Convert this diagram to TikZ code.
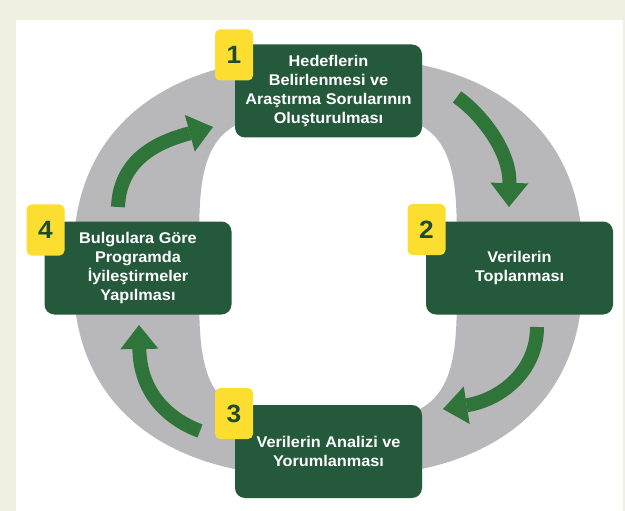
\documentclass[tikz,border=0pt]{standalone}
\usepackage{fontspec}
\setmainfont{Liberation Sans}[FakeStretch=1.05]
\usetikzlibrary{arrows.meta}
\definecolor{bgbeige}{RGB}{240,239,225}
\definecolor{ringgray}{RGB}{184,183,186}
\definecolor{boxgreen}{RGB}{37,89,59}
\definecolor{arrowgreen}{RGB}{47,117,58}
\definecolor{badgeyellow}{RGB}{252,222,48}
\definecolor{digitgreen}{RGB}{31,75,42}
\begin{document}
\begin{tikzpicture}[x=1pt,y=-1pt,
  stepbox/.style={rectangle, rounded corners=10pt, fill=boxgreen, text=white,
    minimum width=187pt, minimum height=93pt, inner sep=0pt, align=center,
    font=\bfseries\fontsize{15.5}{19}\selectfont},
  badge/.style={rectangle, rounded corners=5pt, fill=badgeyellow, text=digitgreen,
    minimum width=38pt, minimum height=51pt, inner sep=0pt,
    font=\bfseries\fontsize{25}{25}\selectfont},
  flow/.style={draw=arrowgreen, line width=14pt,
    -{Triangle[width=38pt,length=24pt,line width=0pt]}}
]
\useasboundingbox (0,0) rectangle (625,511);
\fill[bgbeige] (0,0) rectangle (625,511);
\fill[white] (16,20) rectangle (623,511);

% grey ring (superellipses)
\fill[ringgray, even odd rule]
  plot[domain=0.5:359.5, samples=360, variable=\t]
    ({328+255*cos(\t)*pow(abs(cos(\t)),-0.17)}, {267+210*sin(\t)*pow(abs(sin(\t)),-0.17)}) -- cycle
  plot[domain=0.5:359.5, samples=360, variable=\t]
    ({328+129*cos(\t)*pow(abs(cos(\t)),-0.5)}, {267+153*sin(\t)*pow(abs(sin(\t)),-0.5)}) -- cycle;

% arrows
\coordinate (a1s) at (457,97);  \coordinate (a1e) at (509,207);
\coordinate (a2s) at (537,327); \coordinate (a2e) at (443,409);
\coordinate (a3s) at (200,431); \coordinate (a3e) at (139,325);
\coordinate (a4s) at (118,207); \coordinate (a4e) at (213,127);
\draw[flow] (a1s) .. controls (480,113) and (510,150) .. (a1e);
\draw[flow] (a2s) .. controls (537,372) and (500,400) .. (a2e);
\draw[flow] (a3s) .. controls (165,418) and (140,390) .. (a3e);
\draw[flow] (a4s) .. controls (120,155) and (165,140) .. (a4e);

% boxes
\node[stepbox] (s1) at (328.5,91) {Hedeflerin\\Belirlenmesi ve\\Araştırma Sorularının\\Oluşturulması};
\node[stepbox] (s2) at (519.5,268) {Verilerin\\Toplanması};
\node[stepbox] (s3) at (328.5,451.5) {Verilerin Analizi ve\\Yorumlanması};
\node[stepbox] (s4) at (138,268) {Bulgulara Göre\\Programda\\İyileştirmeler\\Yapılması};

% badges
\node[badge] (b1) at (234,55) {1};
\node[badge] (b2) at (426.5,229.5) {2};
\node[badge] (b3) at (234,413.5) {3};
\node[badge] (b4) at (45.5,230) {4};
\end{tikzpicture}
\end{document}
